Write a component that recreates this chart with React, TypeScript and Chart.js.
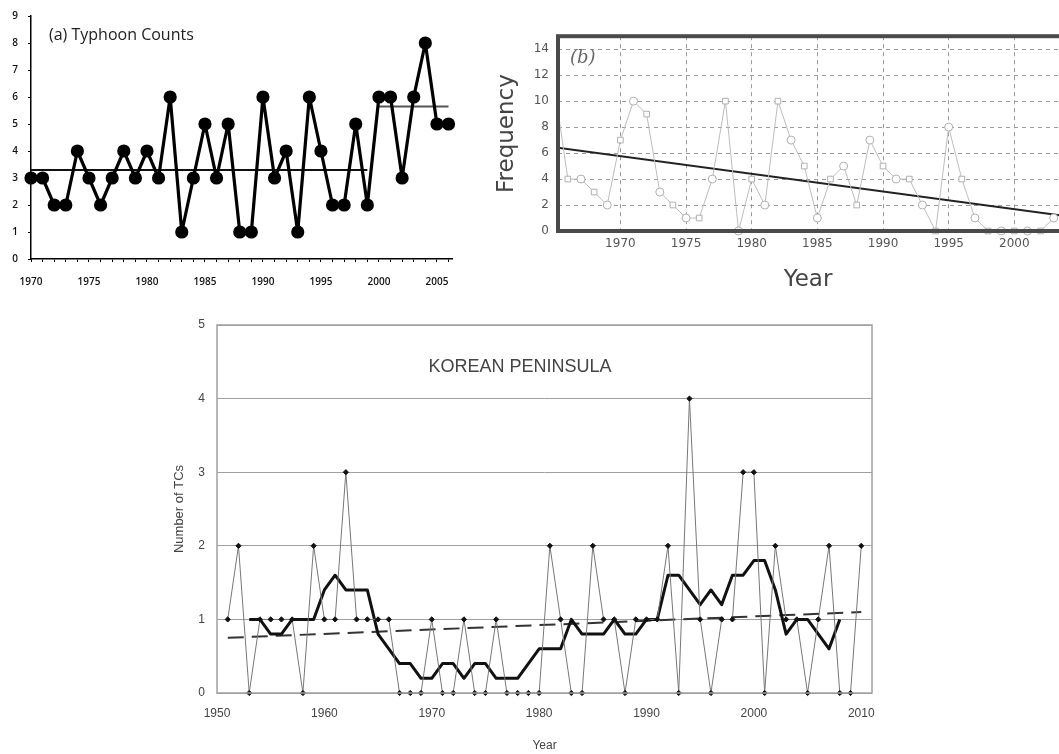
import React, { useEffect, useRef } from 'react';
import { Chart, registerables } from 'chart.js';
Chart.register(...registerables);

// ---------- (a) Typhoon Counts ----------
const yearsA = [1970, 1971, 1972, 1973, 1974, 1975, 1976, 1977, 1978, 1979, 1980, 1981, 1982, 1983, 1984, 1985, 1986, 1987, 1988, 1989, 1990, 1991, 1992, 1993, 1994, 1995, 1996, 1997, 1998, 1999, 2000, 2001, 2002, 2003, 2004, 2005, 2006];
const countsA = [3, 3, 2, 2, 4, 3, 2, 3, 4, 3, 4, 3, 6, 1, 3, 5, 3, 5, 1, 1, 6, 3, 4, 1, 6, 4, 2, 2, 5, 2, 6, 6, 3, 6, 8, 5, 5];
const meanA1Years = [1970, 1999];
const meanA1 = [3.3, 3.3];
const meanA2Years = [2000, 2006];
const meanA2 = [5.65, 5.65];
const ticksAX = yearsA;
const ticksAY = [0, 1, 2, 3, 4, 5, 6, 7, 8, 9];

// ---------- (b) Frequency ----------
const yearsB = [1965, 1966, 1967, 1968, 1969, 1970, 1971, 1972, 1973, 1974, 1975, 1976, 1977, 1978, 1979, 1980, 1981, 1982, 1983, 1984, 1985, 1986, 1987, 1988, 1989, 1990, 1991, 1992, 1993, 1994, 1995, 1996, 1997, 1998, 1999, 2000, 2001, 2002, 2003];
const freqB = [11, 4, 4, 3, 2, 7, 10, 9, 3, 2, 1, 1, 4, 10, 0, 4, 2, 10, 7, 5, 1, 4, 5, 2, 7, 5, 4, 4, 2, 0, 8, 4, 1, 0, 0, 0, 0, 0, 1];
const trendBYears = [1965, 2005];
const trendB = [6.45, 1.0];
const ticksBX = [1970, 1975, 1980, 1985, 1990, 1995, 2000];
const ticksBY = [0, 2, 4, 6, 8, 10, 12, 14];

// ---------- (c) Korean Peninsula ----------
const yearsC = [1951, 1952, 1953, 1954, 1955, 1956, 1957, 1958, 1959, 1960, 1961, 1962, 1963, 1964, 1965, 1966, 1967, 1968, 1969, 1970, 1971, 1972, 1973, 1974, 1975, 1976, 1977, 1978, 1979, 1980, 1981, 1982, 1983, 1984, 1985, 1986, 1987, 1988, 1989, 1990, 1991, 1992, 1993, 1994, 1995, 1996, 1997, 1998, 1999, 2000, 2001, 2002, 2003, 2004, 2005, 2006, 2007, 2008, 2009, 2010];
const tcC = [1, 2, 0, 1, 1, 1, 1, 0, 2, 1, 1, 3, 1, 1, 1, 1, 0, 0, 0, 1, 0, 0, 1, 0, 0, 1, 0, 0, 0, 0, 2, 1, 0, 0, 2, 1, 1, 0, 1, 1, 1, 2, 0, 4, 1, 0, 1, 1, 3, 3, 0, 2, 1, 1, 0, 1, 2, 0, 0, 2];
const smoothYearsC = [1953, 1954, 1955, 1956, 1957, 1958, 1959, 1960, 1961, 1962, 1963, 1964, 1965, 1966, 1967, 1968, 1969, 1970, 1971, 1972, 1973, 1974, 1975, 1976, 1977, 1978, 1979, 1980, 1981, 1982, 1983, 1984, 1985, 1986, 1987, 1988, 1989, 1990, 1991, 1992, 1993, 1994, 1995, 1996, 1997, 1998, 1999, 2000, 2001, 2002, 2003, 2004, 2005, 2006, 2007, 2008];
const smoothC = [1.0, 1.0, 0.8, 0.8, 1.0, 1.0, 1.0, 1.4, 1.6, 1.4, 1.4, 1.4, 0.8, 0.6, 0.4, 0.4, 0.2, 0.2, 0.4, 0.4, 0.2, 0.4, 0.4, 0.2, 0.2, 0.2, 0.4, 0.6, 0.6, 0.6, 1.0, 0.8, 0.8, 0.8, 1.0, 0.8, 0.8, 1.0, 1.0, 1.6, 1.6, 1.4, 1.2, 1.4, 1.2, 1.6, 1.6, 1.8, 1.8, 1.4, 0.8, 1.0, 1.0, 0.8, 0.6, 1.0];
const trendCYears = [1951, 2010];
const trendC = [0.75, 1.1];
const ticksCX = [1950, 1960, 1970, 1980, 1990, 2000, 2010];
const ticksCY = [0, 1, 2, 3, 4, 5];

const pts = (xs: number[], ys: number[]) => xs.map((x, i) => ({ x, y: ys[i] }));
const setTicks = (vals: number[]) => (s: any) => { s.ticks = vals.map((value) => ({ value })); };

const framePlugin = (color: string, width: number) => ({
  id: 'frame',
  afterDatasetsDraw(chart: any) {
    const { ctx, chartArea: a } = chart;
    ctx.save();
    ctx.strokeStyle = color;
    ctx.lineWidth = width;
    ctx.strokeRect(a.left, a.top, a.right - a.left, a.bottom - a.top);
    ctx.restore();
  },
});

const textPlugin = (items: any[]) => ({
  id: 'txt',
  afterDraw(chart: any) {
    const ctx = chart.ctx;
    items.forEach((it) => {
      ctx.save();
      ctx.font = it.font;
      ctx.fillStyle = it.color;
      ctx.textAlign = it.align || 'left';
      ctx.textBaseline = 'middle';
      ctx.fillText(it.text, it.x, it.y);
      ctx.restore();
    });
  },
});

function useChart(ref: React.RefObject<HTMLCanvasElement>, make: () => any) {
  useEffect(() => {
    if (!ref.current) return;
    const ch = new Chart(ref.current, make());
    return () => ch.destroy();
  }, []);
}

export default function App() {
  const refA = useRef<HTMLCanvasElement>(null);
  const refB = useRef<HTMLCanvasElement>(null);
  const refC = useRef<HTMLCanvasElement>(null);

  useChart(refA, () => ({
    type: 'line',
    data: {
      datasets: [
        {
          data: pts(yearsA, countsA),
          borderColor: '#000',
          borderWidth: 3.2,
          borderJoinStyle: 'round',
          pointRadius: 5,
          pointBackgroundColor: '#000',
          pointBorderColor: '#000',
          clip: false,
        },
        { data: pts(meanA1Years, meanA1), borderColor: '#111', borderWidth: 2, pointRadius: 0, clip: false },
        { data: pts(meanA2Years, meanA2), borderColor: '#555', borderWidth: 2, pointRadius: 0, clip: false },
      ],
    },
    options: {
      responsive: false,
      animation: false,
      events: [],
      plugins: { legend: { display: false }, tooltip: { enabled: false } },
      layout: { padding: { left: 0, top: 15, right: 18, bottom: 0 } },
      scales: {
        x: {
          type: 'linear',
          min: 1970,
          max: 2006.3,
          afterBuildTicks: setTicks(ticksAX),
          afterFit: (s: any) => { s.height = 41; },
          ticks: {
            autoSkip: false,
            maxRotation: 0,
            padding: 14,
            color: '#111',
            font: { family: 'Open Sans', size: 10, weight: '600' },
            callback: (v: any) => (v % 5 === 0 ? String(v) : ''),
          },
          grid: { drawOnChartArea: false, color: '#000', tickLength: 3, lineWidth: 1 },
          border: { color: '#000', width: 1.5 },
        },
        y: {
          min: 0,
          max: 9,
          afterBuildTicks: setTicks(ticksAY),
          afterFit: (s: any) => { s.width = 31; },
          ticks: { padding: 10, color: '#111', font: { family: 'Open Sans', size: 10, weight: '600' }, callback: (v: any) => String(v) },
          grid: { drawOnChartArea: false, color: '#000', tickLength: 3 },
          border: { color: '#000', width: 1.5 },
        },
      },
    },
    plugins: [textPlugin([{ text: '(a) Typhoon Counts', x: 49, y: 35, font: '16px "Open Sans"', color: '#222' }])],
  }));

  useChart(refB, () => ({
    type: 'line',
    data: {
      datasets: [
        {
          data: pts(yearsB, freqB),
          borderColor: '#bdbdbd',
          borderWidth: 1,
          pointRadius: 4,
          pointStyle: yearsB.map((_, i) => (i % 2 === 0 ? 'circle' : 'rect')),
          pointBackgroundColor: '#fff',
          pointBorderColor: '#b0b0b0',
          pointBorderWidth: 1,
          clip: { left: 0, right: 0, top: 0, bottom: 6 },
        },
        { data: pts(trendBYears, trendB), borderColor: '#222', borderWidth: 2, pointRadius: 0, clip: 0 },
      ],
    },
    options: {
      responsive: false,
      animation: false,
      events: [],
      plugins: { legend: { display: false }, tooltip: { enabled: false } },
      layout: { padding: { left: 0, top: 13, right: 10, bottom: 0 } },
      scales: {
        x: {
          type: 'linear',
          min: 1965.25,
          max: 2005,
          afterBuildTicks: setTicks(ticksBX),
          afterFit: (s: any) => { s.height = 69; },
          ticks: { autoSkip: false, maxRotation: 0, padding: 6, color: '#555', font: { family: 'DejaVu Sans', size: 12 }, callback: (v: any) => String(v) },
          grid: { drawTicks: false, color: '#9a9a9a', lineWidth: 1 },
          border: { display: false, dash: [4, 4] },
        },
        y: {
          min: 0,
          max: 15,
          afterBuildTicks: setTicks(ticksBY),
          afterFit: (s: any) => { s.width = 68; },
          ticks: { padding: 9, color: '#555', font: { family: 'DejaVu Sans', size: 12 }, callback: (v: any) => String(v) },
          grid: { drawTicks: false, color: '#9a9a9a', lineWidth: 1 },
          border: { display: false, dash: [4, 4] },
          title: { display: true, text: 'Frequency', color: '#444', font: { family: 'DejaVu Sans', size: 23 }, padding: { top: 3, bottom: 0 } },
        },
      },
    },
    plugins: [
      framePlugin('#4a4a4a', 4),
      textPlugin([
        { text: '(b)', x: 80, y: 38, font: 'italic 18px "DejaVu Serif"', color: '#666' },
        { text: 'Year', x: 318, y: 260, font: '23px "DejaVu Sans"', color: '#444', align: 'center' },
      ]),
    ],
  }));

  useChart(refC, () => ({
    type: 'line',
    data: {
      datasets: [
        {
          data: pts(yearsC, tcC),
          borderColor: '#777',
          borderWidth: 1,
          pointRadius: 2.6,
          pointStyle: 'rectRot',
          pointBackgroundColor: '#111',
          pointBorderColor: '#111',
          clip: false,
        },
        { data: pts(smoothYearsC, smoothC), borderColor: '#111', borderWidth: 3, borderJoinStyle: 'round', pointRadius: 0, clip: false },
        { data: pts(trendCYears, trendC), borderColor: '#333', borderWidth: 2, borderDash: [16, 8], pointRadius: 0, clip: false },
      ],
    },
    options: {
      responsive: false,
      animation: false,
      events: [],
      plugins: { legend: { display: false }, tooltip: { enabled: false } },
      layout: { padding: { left: 0, top: 25, right: 8, bottom: 0 } },
      scales: {
        x: {
          type: 'linear',
          min: 1950,
          max: 2011,
          afterBuildTicks: setTicks(ticksCX),
          afterFit: (s: any) => { s.height = 61; },
          ticks: { autoSkip: false, maxRotation: 0, padding: 5, color: '#444', font: { family: 'Liberation Sans', size: 12 }, callback: (v: any) => String(v) },
          grid: { display: false },
          border: { display: false },
          title: { display: true, text: 'Year', color: '#444', font: { family: 'Liberation Sans', size: 12 }, padding: { top: 0, bottom: 1 } },
        },
        y: {
          min: 0,
          max: 5,
          afterBuildTicks: setTicks(ticksCY),
          afterFit: (s: any) => { s.width = 57; },
          ticks: { padding: 12, color: '#444', font: { family: 'Liberation Sans', size: 12 }, callback: (v: any) => String(v) },
          grid: { drawTicks: false, color: '#a0a0a0', lineWidth: 1 },
          border: { display: false },
          title: { display: true, text: 'Number of TCs', color: '#444', font: { family: 'Liberation Sans', size: 13 }, padding: { top: 12, bottom: 0 } },
        },
      },
    },
    plugins: [
      framePlugin('#a0a0a0', 1.5),
      textPlugin([{ text: 'KOREAN PENINSULA', x: 360, y: 67, font: '18px "Liberation Sans"', color: '#444', align: 'center' }]),
    ],
  }));

  return (
    <div style={{ position: 'absolute', left: 0, top: 0, width: 1059, height: 754, overflow: 'hidden', background: '#fff' }}>
      <canvas ref={refA} width={470} height={300} style={{ position: 'absolute', left: 0, top: 0 }} />
      <canvas ref={refB} width={600} height={280} style={{ position: 'absolute', left: 490, top: 20 }} />
      <canvas ref={refC} width={720} height={454} style={{ position: 'absolute', left: 160, top: 300 }} />
    </div>
  );
}
